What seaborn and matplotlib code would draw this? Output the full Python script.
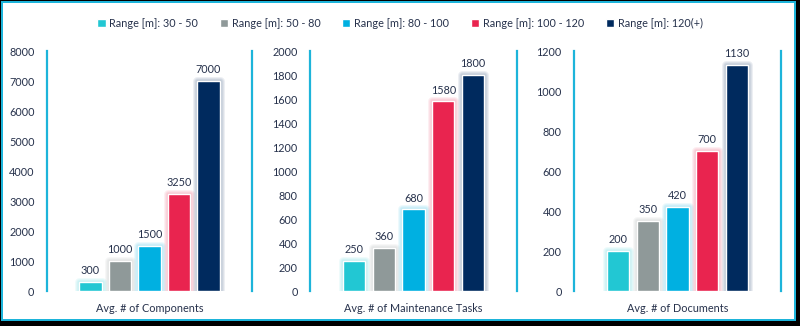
import matplotlib
matplotlib.use("Agg")
import matplotlib.pyplot as plt
import matplotlib.patheffects as pe
from matplotlib.patches import Rectangle
import seaborn as sns
import pandas as pd

# Range classes and their colours
ranges = ["Range [m]: 30 - 50", "Range [m]: 50 - 80", "Range [m]: 80 - 100",
          "Range [m]: 100 - 120", "Range [m]: 120(+)"]
colors = ["#22C7D3", "#8F9999", "#00B0E1", "#E9244F", "#002A5E"]

# Metrics and their averages per range class
metrics = ["Avg. # of Components", "Avg. # of Maintenance Tasks", "Avg. # of Documents"]
components = [300, 1000, 1500, 3250, 7000]
maintenance_tasks = [250, 360, 680, 1580, 1800]
documents = [200, 350, 420, 700, 1130]

y_max = [8000, 2000, 1200]
y_step = [1000, 200, 200]

text_color = "#27324C"
spine_color = "#1DB4DA"

sns.set_theme(style="white")
plt.rcParams["font.family"] = ["Lato", "DejaVu Sans"]
plt.rcParams["font.size"] = 7.8

fig = plt.figure(figsize=(8, 3.26), dpi=100)
fig.patch.set_facecolor("black")

# Frame: black outer edge, thin cyan line, white interior
W, H = 800, 326
fig.add_artist(Rectangle((1 / W, 5 / H), 795 / W, 320 / H, transform=fig.transFigure,
                         facecolor=spine_color, edgecolor="none", zorder=-10))
fig.add_artist(Rectangle((3 / W, 7 / H), 791 / W, 316 / H, transform=fig.transFigure,
                         facecolor="white", edgecolor="none", zorder=-9))

lefts = [47, 310, 574]
widths = [205, 207, 207]
series = [components, maintenance_tasks, documents]


def glow(col):
    # soft halo around a bar, built from a few translucent rounded strokes
    effects = []
    for lw in (6.5, 5.0, 3.5, 2.0):
        effects.append(pe.Stroke(linewidth=lw, foreground=col, alpha=0.07,
                                 joinstyle="round"))
    effects.append(pe.Normal())
    return effects


axes = []
for i, (metric, vals) in enumerate(zip(metrics, series)):
    ax = fig.add_axes([lefts[i] / W, 35 / H, widths[i] / W, 240 / H])
    ax.set_facecolor("none")
    df = pd.DataFrame({"metric": metric, "range": ranges, "value": vals})
    sns.barplot(data=df, x="metric", y="value", hue="range", hue_order=ranges,
                palette=colors, width=0.8, gap=0.25, saturation=1, ax=ax,
                legend=(i == 0))
    for container, col in zip(ax.containers, colors):
        for bar in container:
            bar.set_path_effects(glow(col))
        ax.bar_label(container, padding=4, color=text_color, fontsize=7.8)
    ax.set_xlim(-0.556, 0.556)
    ax.set_ylim(0, y_max[i])
    ax.set_yticks(range(0, y_max[i] + 1, y_step[i]))
    ax.set_xlabel("")
    ax.set_ylabel("")
    ax.tick_params(axis="both", length=0, colors=text_color, labelsize=7.8)
    ax.tick_params(axis="y", pad=9)
    ax.tick_params(axis="x", pad=9)
    for s in ["top", "bottom"]:
        ax.spines[s].set_visible(False)
    for s in ["left", "right"]:
        ax.spines[s].set_color(spine_color)
        ax.spines[s].set_linewidth(1.6)
    axes.append(ax)

handles, labels = axes[0].get_legend_handles_labels()
axes[0].get_legend().remove()
leg = fig.legend(handles, labels, loc="center", bbox_to_anchor=(0.5, 1 - 23 / H),
                 ncol=5, frameon=False, handlelength=0.75, handleheight=0.75,
                 handletextpad=0.35, columnspacing=2.0, fontsize=7.8)
for t in leg.get_texts():
    t.set_color(text_color)

fig.savefig("out.png", dpi=100, facecolor=fig.get_facecolor())
